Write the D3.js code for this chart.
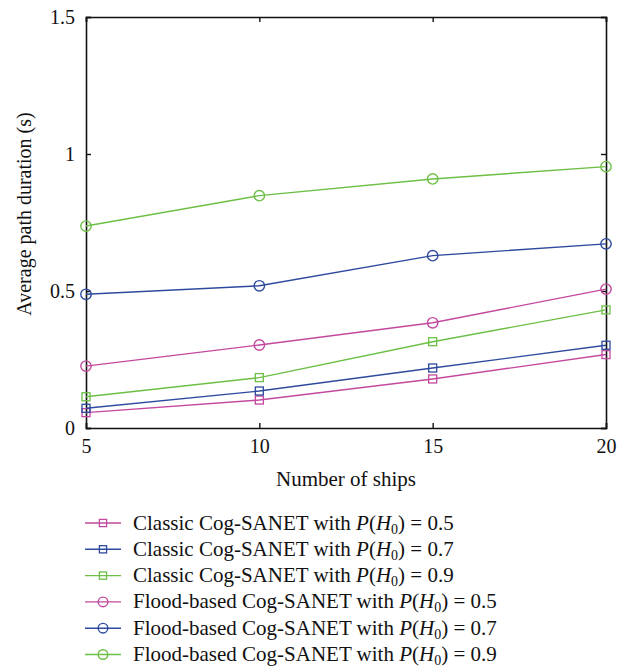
<!DOCTYPE html>
<html>
<head>
<meta charset="utf-8">
<script src="https://cdn.jsdelivr.net/npm/d3@7"></script>
<style>
  body { margin: 0; background: #fff; }
  text { font-family: "Liberation Serif", "DejaVu Serif", serif; fill: #111; }
</style>
</head>
<body>
<script>
// chart data
var ships = [5, 10, 15, 20];
var xTicks = [5, 10, 15, 20];
var yTicks = [0, 0.5, 1, 1.5];

var classic05 = [0.056, 0.102, 0.179, 0.268];
var classic07 = [0.072, 0.135, 0.219, 0.302];
var classic09 = [0.114, 0.184, 0.315, 0.431];
var flood05 = [0.226, 0.303, 0.384, 0.507];
var flood07 = [0.488, 0.519, 0.629, 0.672];
var flood09 = [0.737, 0.848, 0.909, 0.954];

var seriesNames = [
  ["Classic Cog-SANET with ", "0.5"],
  ["Classic Cog-SANET with ", "0.7"],
  ["Classic Cog-SANET with ", "0.9"],
  ["Flood-based Cog-SANET with ", "0.5"],
  ["Flood-based Cog-SANET with ", "0.7"],
  ["Flood-based Cog-SANET with ", "0.9"]
];

var magenta = "#c4489e";
var blue = "#2d4a9e";
var green = "#6cbf44";

var series = [
  {vals: classic05, color: magenta, mark: "square"},
  {vals: classic07, color: blue, mark: "square"},
  {vals: classic09, color: green, mark: "square"},
  {vals: flood05, color: magenta, mark: "circle"},
  {vals: flood07, color: blue, mark: "circle"},
  {vals: flood09, color: green, mark: "circle"}
];

var width = 629;
var height = 667;
// plot box (can't call it "top", window.top is taken)
var plotLeft = 86, plotRight = 606, plotTop = 17, plotBottom = 428;

var svg = d3.select("body")
  .append("svg")
  .attr("width", width)
  .attr("height", height);

var x = d3.scaleLinear().domain([5, 20]).range([plotLeft, plotRight]);
var y = d3.scaleLinear().domain([0, 1.5]).range([plotBottom, plotTop]);

// axes (ticks point inward, mirrored on top and right)
svg.append("g")
  .attr("transform", "translate(0," + plotBottom + ")")
  .call(d3.axisBottom(x).tickValues(xTicks).tickSize(-5).tickPadding(11).tickFormat(d3.format("d")));
svg.append("g")
  .attr("transform", "translate(0," + plotTop + ")")
  .call(d3.axisTop(x).tickValues(xTicks).tickSize(-5).tickFormat(""));
svg.append("g")
  .attr("transform", "translate(" + plotLeft + ",0)")
  .call(d3.axisLeft(y).tickValues(yTicks).tickSize(-5).tickPadding(11).tickFormat(function(d) { return d; }));
svg.append("g")
  .attr("transform", "translate(" + plotRight + ",0)")
  .call(d3.axisRight(y).tickValues(yTicks).tickSize(-5).tickFormat(""));

svg.selectAll(".domain").attr("stroke", "#111").attr("stroke-width", 1.6);
svg.selectAll(".tick line").attr("stroke", "#111").attr("stroke-width", 1.4);
svg.selectAll(".tick text")
  .style("font-family", "Liberation Serif, serif")
  .style("font-size", "20px")
  .attr("fill", "#111");

// axis titles
svg.append("text")
  .attr("x", (plotLeft + plotRight) / 2)
  .attr("y", 486)
  .attr("text-anchor", "middle")
  .style("font-size", "21px")
  .text("Number of ships");

svg.append("text")
  .attr("transform", "translate(31,214) rotate(-90)")
  .attr("text-anchor", "middle")
  .style("font-size", "20px")
  .text("Average path duration (s)");

var line = d3.line()
  .x(function(d, i) { return x(ships[i]); })
  .y(function(d) { return y(d); });

function drawMarker(g, type, cx, cy, color, size) {
  if (type === "square") {
    g.append("rect")
      .attr("x", cx - size).attr("y", cy - size)
      .attr("width", size * 2).attr("height", size * 2)
      .attr("fill", "none").attr("stroke", color).attr("stroke-width", 1.3);
  } else {
    g.append("circle")
      .attr("cx", cx).attr("cy", cy).attr("r", size + 1.2)
      .attr("fill", "none").attr("stroke", color).attr("stroke-width", 1.4);
  }
}

var plot = svg.append("g");
series.forEach(function(s) {
  plot.append("path")
    .datum(s.vals)
    .attr("d", line)
    .attr("fill", "none")
    .attr("stroke", s.color)
    .attr("stroke-width", 1.4);
  s.vals.forEach(function(v, i) {
    drawMarker(plot, s.mark, x(ships[i]), y(v), s.color, 4);
  });
});

// legend
var legend = svg.append("g");
series.forEach(function(s, i) {
  var ly = 523 + i * 26.3;
  legend.append("line")
    .attr("x1", 85).attr("x2", 121)
    .attr("y1", ly).attr("y2", ly)
    .attr("stroke", s.color).attr("stroke-width", 1.4);
  drawMarker(legend, s.mark, 103, ly, s.color, 3.6);
  var t = legend.append("text")
    .attr("x", 133)
    .attr("y", ly + 6.5)
    .style("font-size", "21px");
  t.append("tspan").text(seriesNames[i][0]);
  t.append("tspan").style("font-style", "italic").text("P");
  t.append("tspan").text("(");
  t.append("tspan").style("font-style", "italic").text("H");
  t.append("tspan").attr("dy", 4).style("font-size", "14px").text("0");
  t.append("tspan").attr("dy", -4).text(") = " + seriesNames[i][1]);
});
</script>
</body>
</html>
